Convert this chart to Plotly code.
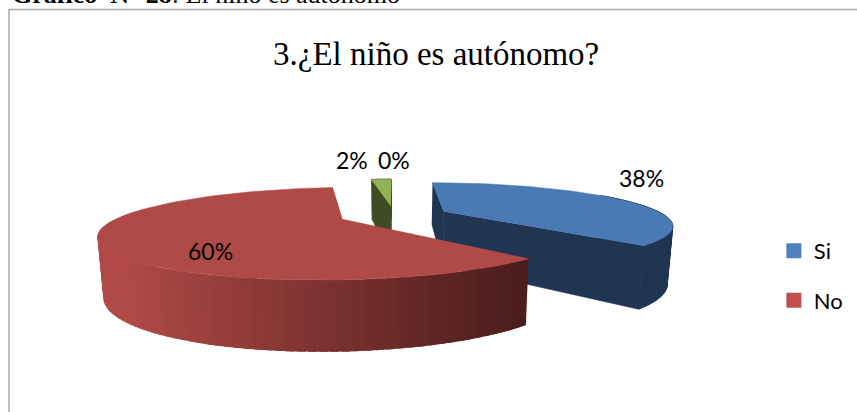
import math
import plotly.graph_objects as go

# ---- data ----
categories = ["Si", "No", "", ""]
values = [38, 60, 2, 0]
label_text = ["38%", "60%", "2%", "0%"]
title_text = "3.¿El niño es autónomo?"
caption_bold = "Gráfico  N° 28"
caption_rest = ": El niño es autónomo"

# ---- styling and projection settings ----
top_colors = {"Si": "#4A7AB3", "No": "#B04A46", "": "#93B255"}
wall_colors = {"Si": "#1F3552", "": "#3F4B22"}
legend_colors = {"Si": "#4F81BD", "No": "#C0504D"}
X0, Y0, A, B, K, EXPLODE = 394, 215, 220, 39.3, 0.30, 0.25


def project(u, v):
    s = 1 / (1 + K * v)
    return X0 + A * u * s, Y0 - B * v * s


def lower(x, y):
    d = y - Y0
    return X0 + 0.98 * (x - X0), 270.5 + 1.25 * d + 0.2 * min(d, 0)


def rim(a, bis):
    """Point on the exploded slice rim at angle a (degrees clockwise from north)."""
    r = math.radians(a)
    m = math.radians(bis)
    return project(math.sin(r) + EXPLODE * math.sin(m), math.cos(r) + EXPLODE * math.cos(m))


def apex(bis):
    m = math.radians(bis)
    return project(EXPLODE * math.sin(m), EXPLODE * math.cos(m))


fig = go.Figure()


def poly(pts, color, line=0.0):
    fig.add_trace(go.Scatter(
        x=[p[0] for p in pts], y=[p[1] for p in pts], mode="lines", fill="toself",
        fillcolor=color, line=dict(color=color, width=line), hoverinfo="skip", showlegend=False))


def mix(c1, c2, t):
    return "rgb(%d,%d,%d)" % tuple(round(c1[i] + (c2[i] - c1[i]) * t) for i in range(3))


# slice angles from the values
total = sum(values)
slices = []
cum = 0
for cat, val in zip(categories, values):
    a0 = cum / total * 360
    cum += val
    a1 = cum / total * 360
    slices.append((cat, val, a0, a1, (a0 + a1) / 2))

# back to front: green, blue, red
for idx in (2, 0, 1):
    cat, val, a0, a1, bis = slices[idx]
    n = max(4, int((a1 - a0) * 0.5))
    angles = [a0 + (a1 - a0) * i / n for i in range(n + 1)]
    arc = [rim(a, bis) for a in angles]
    c = apex(bis)
    if cat == "No":
        # outer wall drawn as overlapping strips, left to right shading by position
        front = [a for a in angles if a <= 285]
        for j in range(len(front) - 1, 0, -1):
            p, q = rim(front[j - 1], bis), rim(min(front[j] + 1.5, 285), bis)
            t = min(1, max(0, (527 - p[0]) / 397))
            col = mix((76, 29, 28), (176, 74, 70), t)
            poly([p, q, lower(*q), lower(*p)], col, 0)
    else:
        wall = wall_colors[cat]
        poly([arc[0], c, lower(*c), lower(*arc[0])], wall, 0.5)
        poly([arc[-1], c, lower(*c), lower(*arc[-1])], wall, 0.5)
        outer = [a for a in angles if a >= 60 or cat == ""]
        for a, b in zip(outer[:-1], outer[1:]):
            p, q = rim(a, bis), rim(min(b + 1.5, a1), bis)
            poly([p, q, lower(*q), lower(*p)], wall, 1)
    poly([c] + arc, top_colors[cat], 0.5)

# real legend entries
for i, name in enumerate(categories[:2]):
    fig.add_trace(go.Scatter(
        x=[None], y=[None], mode="markers", name=name, legendgroup=name,
        marker=dict(symbol="square", size=15, color=legend_colors[name])))

label_pos = [(641, 178), (210, 251), (351.5, 160), (393.5, 160)]
annotations = [
    dict(x=x, y=y, text=t, showarrow=False, xref="x", yref="y", xanchor="center", yanchor="middle",
         font=dict(family="Lato", size=23, color="#000000"))
    for t, (x, y) in zip(label_text, label_pos)
]
annotations.append(dict(x=436, y=54, text=title_text, showarrow=False, xref="x", yref="y",
                        xanchor="center", yanchor="middle",
                        font=dict(family="Liberation Serif", size=33, color="#000000")))
annotations.append(dict(x=10, y=11, text=f"<b>{caption_bold}</b>{caption_rest}", showarrow=False,
                        xref="x", yref="y", xanchor="left", yanchor="bottom",
                        font=dict(family="Liberation Serif", size=26, color="#000000")))

fig.update_layout(
    width=857, height=412, margin=dict(l=0, r=0, t=0, b=0, pad=0),
    paper_bgcolor="#FFFFFF", plot_bgcolor="#FFFFFF",
    xaxis=dict(range=[0, 857], visible=False, fixedrange=True),
    yaxis=dict(range=[412, 0], visible=False, fixedrange=True),
    annotations=annotations,
    shapes=[dict(type="rect", xref="x", yref="y", x0=9, y0=9.5, x1=900, y1=460,
                 line=dict(color="#A6A6A6", width=1.5), fillcolor="rgba(0,0,0,0)", layer="below")],
    legend=dict(x=0.903, y=0.442, xanchor="left", yanchor="top", tracegroupgap=18,
                bgcolor="rgba(0,0,0,0)", font=dict(family="Lato", size=22, color="#000000")),
    showlegend=True,
)
fig.write_html("out.html", config={"displayModeBar": False},
               post_script="document.body.style.margin='0';document.documentElement.style.overflow='hidden';")
